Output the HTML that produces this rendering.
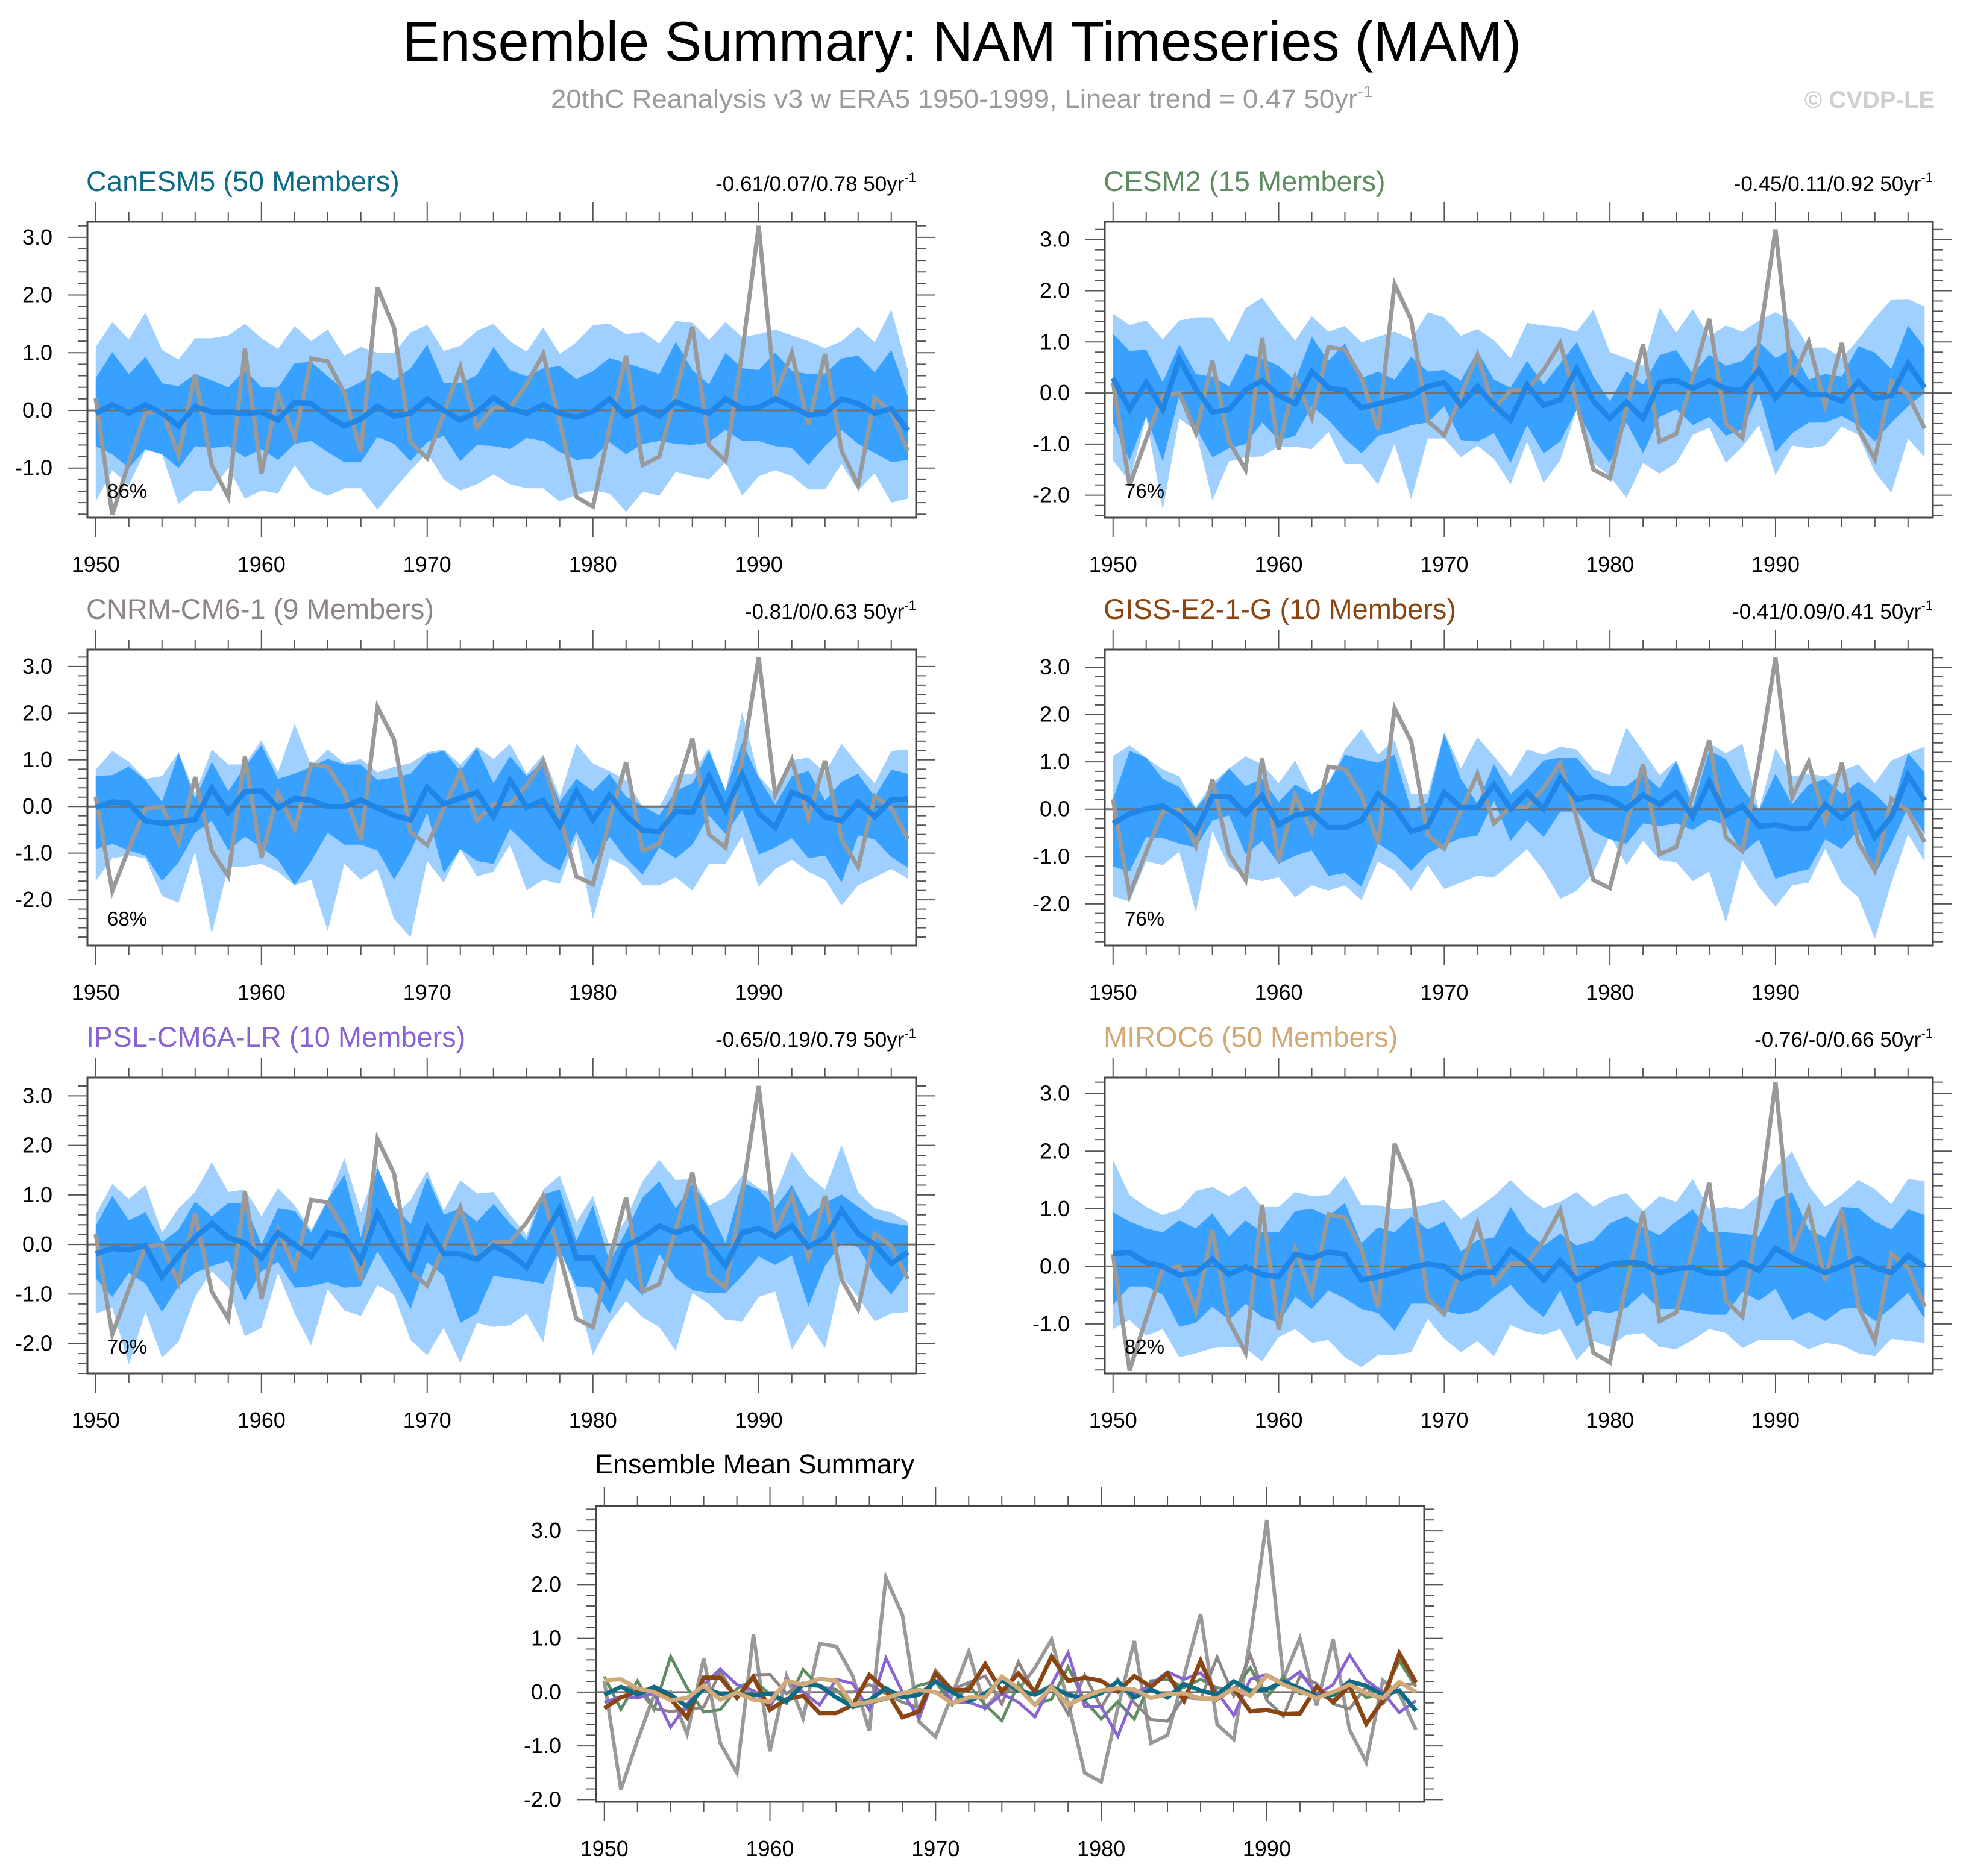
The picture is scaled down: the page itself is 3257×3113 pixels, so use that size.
<!DOCTYPE html>
<html><head><meta charset="utf-8"><style>
html,body{margin:0;padding:0;background:#fff;}
svg{display:block;font-family:"Liberation Sans",Arial,sans-serif;}
</style></head><body>
<svg id="chart" xmlns="http://www.w3.org/2000/svg" width="3257" height="3113" viewBox="0 0 3257 3113">
<rect width="3257" height="3113" fill="#fff"/>
<text x="1596" y="101" font-size="94" text-anchor="middle" textLength="1856" lengthAdjust="spacingAndGlyphs">Ensemble Summary: NAM Timeseries (MAM)</text>
<text x="914" y="179" font-size="44" fill="#9a9a9a" textLength="1364" lengthAdjust="spacingAndGlyphs">20thC Reanalysis v3 w ERA5 1950-1999, Linear trend = 0.47 50yr<tspan font-size="28" dy="-18">-1</tspan></text>
<text x="3210" y="179" font-size="40" font-weight="bold" fill="#cfcfcf" text-anchor="end">© CVDP-LE</text>
<g id="plots"></g>
</svg>
<script>
const years = Array.from({length:50},(_, i)=>1950+i);
const obs = [0.21,-1.81,-0.9,-0.05,0.0,-0.78,0.63,-0.95,-1.5,1.07,-1.1,0.3,-0.48,0.9,0.85,0.3,-0.72,2.13,1.43,-0.55,-0.83,-0.05,0.75,-0.3,0.05,0.05,0.45,0.98,-0.2,-1.5,-1.67,-0.3,0.95,-0.95,-0.8,0.3,1.45,-0.6,-0.88,1.0,3.2,0.25,1.0,-0.25,0.98,-0.7,-1.3,0.22,-0.03,-0.7];

const canMean = [-0.05,0.1,-0.05,0.1,-0.05,-0.27,0.07,-0.03,-0.03,-0.06,-0.03,-0.17,0.14,0.12,-0.1,-0.27,-0.15,0.07,-0.1,-0.05,0.2,0.0,-0.17,-0.03,0.22,0.03,-0.05,0.1,-0.05,-0.12,-0.02,0.2,-0.1,0.05,-0.1,0.15,0.03,-0.05,0.2,0.03,0.05,0.2,0.07,-0.08,-0.05,0.2,0.12,-0.05,0.03,-0.35];
const canInHi = [0.56,1.01,0.63,0.93,0.47,0.42,0.63,0.52,0.4,0.7,0.4,0.39,0.82,0.84,0.59,0.35,0.49,0.7,0.52,0.73,1.14,0.47,0.47,0.61,1.1,0.7,0.59,0.73,0.77,0.54,0.68,0.91,0.82,0.73,0.63,1.19,0.7,0.45,1.0,0.73,0.7,1.0,0.68,0.63,0.64,0.9,0.95,0.66,1.05,0.24];
const canInLo = [-0.62,-0.76,-1.0,-0.67,-0.76,-1.0,-0.62,-0.65,-0.62,-0.81,-0.67,-0.86,-0.58,-0.53,-0.72,-0.9,-0.9,-0.46,-0.58,-0.88,-0.55,-0.44,-0.88,-0.6,-0.62,-0.67,-0.48,-0.53,-0.72,-0.86,-0.83,-0.55,-0.76,-0.58,-0.53,-0.58,-0.6,-0.55,-0.34,-0.53,-0.53,-0.62,-0.65,-0.95,-0.62,-0.34,-0.58,-0.74,-0.9,-0.86];
const canOutHi = [1.1,1.53,1.23,1.7,1.05,0.88,1.25,1.25,1.3,1.5,1.25,1.07,1.46,1.2,1.4,0.95,1.1,1.0,1.0,1.35,1.48,1.03,1.12,1.38,1.5,1.2,1.02,1.44,0.98,1.18,1.48,1.5,1.32,1.36,1.16,1.55,1.52,1.22,1.53,1.27,1.32,1.4,1.3,1.2,1.08,1.2,1.45,1.18,1.75,0.7];
const canOutLo = [-1.58,-1.04,-1.3,-0.69,-0.76,-1.62,-1.39,-1.39,-1.0,-1.53,-1.39,-1.44,-0.95,-1.35,-1.48,-1.35,-1.35,-1.72,-1.37,-1.04,-0.74,-1.2,-1.39,-1.28,-1.11,-1.28,-1.35,-1.35,-1.58,-1.46,-1.39,-1.44,-1.76,-1.41,-1.48,-1.07,-1.14,-1.2,-0.9,-1.48,-1.14,-1.04,-1.14,-1.37,-1.37,-0.93,-1.39,-1.09,-1.6,-1.53];

const cesmMean = [0.29,-0.32,0.21,-0.32,0.66,0.08,-0.37,-0.33,0.06,0.24,-0.05,-0.21,0.42,0.1,0.05,-0.29,-0.21,-0.13,-0.05,0.13,0.2,-0.24,0.13,-0.24,-0.53,0.16,-0.24,-0.13,0.47,-0.16,-0.5,-0.18,-0.5,0.21,0.24,0.09,0.24,0.08,0.05,0.45,-0.1,0.29,-0.03,-0.03,-0.16,0.22,-0.1,-0.05,0.58,0.1];
const cesmInHi = [1.16,0.82,0.85,0.21,0.95,0.37,0.32,0.13,0.76,0.68,0.53,0.24,1.1,0.63,0.97,0.29,0.42,0.26,0.71,0.42,0.45,0.24,0.82,0.26,0.1,0.63,0.16,0.58,1.0,0.32,-0.16,0.42,0.16,0.74,0.84,0.37,0.75,0.53,0.63,1.0,0.68,0.87,0.26,0.37,0.32,0.92,0.79,0.47,1.32,0.89];
const cesmInLo = [-0.58,-1.32,-0.45,-1.34,-0.05,-0.68,-1.26,-1.08,-1.0,-0.58,-0.92,-0.84,-0.26,-0.53,-0.89,-1.18,-0.84,-0.76,-0.63,-0.58,-0.26,-0.92,-0.95,-0.79,-1.37,-0.63,-1.18,-0.95,-0.32,-0.95,-1.37,-0.58,-1.18,-0.47,-0.32,-0.63,-0.47,-0.84,-0.71,0.0,-1.16,-0.79,-0.58,-0.58,-0.45,-0.63,-0.95,-0.58,-0.26,0.0];
const cesmOutHi = [1.55,1.33,1.42,1.05,1.42,1.48,1.48,1.0,1.66,1.87,1.42,1.03,1.5,1.2,1.31,0.99,1.1,1.2,1.05,1.58,1.48,1.12,1.25,1.03,0.68,1.37,1.32,1.29,1.2,1.63,0.8,0.68,0.53,1.67,1.18,1.64,1.1,1.32,1.2,1.42,1.58,1.42,0.89,0.89,0.68,1.05,1.47,1.83,1.84,1.69];
const cesmOutLo = [-1.32,-1.74,-0.47,-2.29,-0.5,-0.74,-2.1,-1.34,-1.26,-1.24,-1.05,-1.05,-1.1,-0.76,-1.39,-1.39,-1.79,-1.0,-2.08,-0.89,-0.89,-1.26,-1.03,-1.29,-1.79,-0.95,-1.76,-1.32,-0.32,-1.37,-1.63,-2.05,-1.37,-1.58,-1.37,-0.82,-0.68,-1.37,-1.05,-0.63,-1.61,-1.03,-1.08,-1.03,-0.66,-0.82,-1.55,-1.95,-0.89,-1.26];

const cnrmMean = [-0.02,0.1,0.07,-0.31,-0.36,-0.33,-0.28,0.39,-0.13,0.32,0.33,-0.03,0.17,0.13,0.0,0.0,0.14,-0.03,-0.19,-0.29,0.41,0.05,0.18,0.3,-0.22,0.56,-0.02,0.13,-0.41,0.32,-0.29,0.24,-0.2,-0.51,-0.54,-0.1,-0.13,0.65,-0.07,0.69,-0.15,-0.45,0.3,0.16,-0.22,-0.31,0.1,-0.22,0.14,0.16];
const cnrmInHi = [0.65,0.67,0.86,0.56,0.1,1.14,0.16,0.96,0.33,0.85,1.31,0.59,0.7,0.85,1.02,0.9,0.9,0.57,0.62,0.7,1.11,1.19,0.76,1.25,0.5,1.08,0.65,0.96,0.1,0.59,0.33,0.7,0.21,0.01,-0.19,0.33,0.5,1.19,0.33,1.37,0.62,0.04,0.65,0.76,0.13,0.53,0.7,0.21,0.79,0.7];
const cnrmInLo = [-0.91,-0.8,-0.94,-1.05,-1.6,-1.2,-0.56,-0.31,-0.94,-0.65,-0.88,-1.14,-1.69,-1.17,-0.56,-0.82,-0.82,-0.94,-1.57,-0.97,-0.13,-1.43,-0.91,-1.17,-1.23,-0.48,-0.82,-1.17,-1.37,-0.54,-1.23,-0.65,-1.11,-1.46,-0.88,-1.11,-0.82,-0.19,-0.59,-0.07,-1.03,-0.88,-0.68,-1.11,-1.05,-1.63,-0.62,-0.71,-1.08,-1.31];
const cnrmOutHi = [0.79,1.19,0.96,0.59,0.65,1.16,0.27,1.22,0.9,0.9,1.42,0.73,1.77,0.88,1.22,0.93,1.02,0.73,0.85,0.93,1.16,1.22,0.9,1.28,1.02,1.34,0.7,1.11,0.21,1.34,0.92,0.76,0.56,0.0,-0.02,0.67,0.7,1.25,0.33,2.03,0.65,0.27,0.99,1.05,0.73,1.34,0.9,0.5,1.19,1.22];
const cnrmOutLo = [-1.6,-1.11,-1.05,-1.11,-1.92,-2.06,-0.97,-2.73,-1.29,-1.29,-1.23,-1.4,-1.69,-1.57,-2.67,-1.23,-1.57,-1.34,-2.41,-2.81,-1.17,-1.63,-0.91,-1.5,-1.4,-0.82,-1.8,-1.57,-1.66,-0.68,-2.41,-1.11,-1.29,-1.69,-1.69,-1.52,-1.8,-1.23,-1.23,-0.65,-1.72,-1.34,-1.14,-1.4,-1.57,-2.12,-1.69,-1.52,-1.34,-1.55];

const gissMean = [-0.3,-0.1,0.01,0.07,-0.13,-0.47,0.27,0.27,-0.1,0.28,-0.33,-0.13,-0.07,-0.39,-0.39,-0.24,0.32,0.04,-0.47,-0.36,0.35,0.04,0.04,0.52,0.01,0.35,0.01,0.66,0.21,0.27,0.21,0.01,0.3,0.1,0.35,-0.16,0.58,-0.13,0.07,-0.36,-0.33,-0.41,-0.4,0.1,-0.19,0.12,-0.59,-0.16,0.72,0.18];
const gissInHi = [0.21,1.23,1.09,0.64,0.47,0.01,0.44,0.86,0.49,0.64,0.15,0.52,0.32,0.55,1.15,1.06,0.98,1.15,-0.02,0.15,1.6,0.64,0.12,0.95,0.32,0.64,1.03,1.09,1.09,0.66,0.49,0.49,0.75,0.44,1.01,0.04,1.23,1.06,0.44,-0.02,0.75,0.1,0.52,0.64,0.32,0.58,0.32,-0.02,1.18,0.78];
const gissInLo = [-1.21,-1.32,-0.59,-0.61,-0.73,-0.81,-0.24,-0.13,-0.95,-0.67,-1.15,-0.98,-0.87,-1.41,-1.35,-1.64,-0.73,-0.95,-1.3,-0.93,-0.76,-0.61,-0.56,0.18,-0.67,-0.24,-0.59,-0.05,-0.05,-0.47,-0.64,-0.73,-0.3,-0.36,-0.3,-0.44,-0.22,-0.33,-0.93,-0.64,-1.47,-1.35,-1.27,-0.64,-0.84,-0.44,-1.38,-0.73,0.04,-0.53];
const gissOutHi = [1.12,1.35,1.09,0.84,0.69,0.04,0.55,0.86,1.12,0.95,0.55,1.03,0.32,0.55,1.26,1.69,1.15,1.46,0.32,0.32,1.63,0.86,1.52,1.12,0.69,1.26,1.15,1.32,1.26,0.84,0.72,1.72,1.23,0.72,1.03,0.27,1.4,1.18,1.38,-0.02,1.29,0.69,0.75,0.69,0.81,0.95,0.55,1.03,1.18,1.32];
const gissOutLo = [-1.84,-1.95,-1.1,-1.18,-0.9,-2.18,-0.47,-1.21,-1.44,-1.52,-1.44,-1.86,-1.61,-1.72,-1.61,-1.92,-1.1,-1.3,-1.72,-1.18,-1.69,-1.55,-1.41,-1.44,-1.15,-0.84,-1.3,-1.89,-1.72,-1.35,-0.56,-1.18,-0.67,-1.07,-1.12,-1.52,-1.32,-2.4,-1.07,-1.64,-2.06,-1.61,-1.55,-0.84,-1.55,-1.86,-2.74,-1.55,-0.53,-1.1];

const ipslMean = [-0.19,-0.08,-0.11,-0.02,-0.65,-0.22,0.14,0.43,0.14,0.03,-0.27,0.24,0.0,-0.24,0.24,0.16,-0.33,0.63,0.0,-0.49,0.35,-0.19,-0.19,-0.3,-0.03,-0.19,-0.46,0.14,0.73,-0.27,-0.27,-0.82,-0.03,0.14,0.38,0.24,0.36,0.0,-0.43,0.24,0.33,0.16,0.38,-0.05,0.14,0.69,0.22,0.0,-0.38,-0.16];
const ipslInHi = [0.38,0.98,0.49,0.65,0.05,0.3,0.87,0.57,0.84,0.82,0.0,0.73,0.68,0.24,0.9,1.41,0.14,1.55,0.79,0.41,1.36,0.6,0.73,0.46,0.82,0.43,0.08,1.01,1.11,0.08,0.79,-0.35,0.27,0.95,1.28,0.73,1.22,0.73,0.03,1.25,1.11,0.73,1.2,0.57,0.84,1.01,0.76,0.52,0.43,0.38];
const ipslInLo = [-0.68,-1.06,-0.57,-0.79,-1.36,-0.84,-0.57,-0.43,-0.33,-1.14,-0.54,-0.35,-0.87,-0.84,-0.76,-0.87,-0.84,-0.14,-0.68,-1.3,-0.35,-0.63,-1.58,-1.39,-0.63,-0.68,-0.73,-0.79,-0.11,-0.84,-0.87,-1.39,-0.68,-1.03,-0.19,-0.68,-0.92,-0.98,-0.98,-0.63,-0.24,-0.41,-0.22,-1.25,-0.43,0.03,-0.05,-0.63,-1.01,-0.54];
const ipslOutHi = [0.6,1.22,0.92,1.2,0.24,0.73,1.06,1.66,1.06,1.11,0.57,1.14,0.79,0.3,0.9,1.74,0.65,1.6,0.57,0.9,1.49,0.68,1.3,1.03,1.06,0.6,0.19,1.11,1.39,0.46,0.98,-0.03,0.52,1.28,1.71,1.3,1.33,0.79,0.95,1.39,1.14,1.01,1.87,1.39,1.11,2.01,1.06,0.73,0.65,0.46];
const ipslOutLo = [-1.39,-1.28,-2.42,-1.36,-2.28,-1.96,-1.06,-0.54,-0.87,-1.85,-1.68,-0.57,-1.39,-2.04,-0.9,-1.33,-1.44,-0.82,-1.01,-1.93,-2.23,-1.68,-2.39,-1.58,-1.66,-1.63,-1.39,-1.98,-0.08,-0.95,-2.23,-1.58,-1.14,-1.47,-1.66,-2.15,-0.98,-1.2,-1.52,-1.55,-1.06,-0.95,-2.12,-1.58,-2.09,-0.63,-1.06,-1.55,-1.39,-1.36];

const mirocMean = [0.22,0.24,0.07,0.0,-0.15,-0.11,0.12,-0.14,-0.01,-0.14,-0.18,0.21,0.14,0.25,0.21,-0.24,-0.18,-0.11,-0.02,0.04,0.0,-0.21,-0.1,-0.1,0.29,0.07,-0.24,0.1,-0.24,-0.09,0.03,0.07,0.05,-0.11,-0.04,-0.02,-0.12,-0.12,0.07,-0.07,0.31,0.14,0.02,-0.11,0.0,0.14,-0.02,-0.11,0.19,0.0];
const mirocInHi = [0.94,0.78,0.66,0.59,0.8,0.66,0.92,0.52,0.8,0.59,0.59,0.96,1.0,0.87,1.1,0.4,0.68,0.59,0.87,0.64,0.78,0.26,0.45,0.5,1.03,0.59,0.36,0.57,0.36,0.45,0.75,0.87,0.68,0.54,0.78,0.99,0.59,0.59,0.57,0.52,1.15,1.29,0.64,0.5,1.03,1.01,0.78,0.64,0.99,0.89];
const mirocInLo = [-0.67,-0.35,-0.35,-0.49,-1.05,-0.98,-0.7,-0.93,-0.65,-0.88,-0.98,-0.53,-0.74,-0.42,-0.56,-0.74,-0.81,-1.12,-0.65,-0.65,-0.77,-0.84,-0.77,-0.53,-0.32,-0.65,-0.88,-0.42,-1.05,-0.77,-0.81,-0.72,-0.46,-0.74,-0.74,-0.79,-0.84,-0.84,-0.44,-0.6,-0.39,-0.93,-0.79,-0.95,-0.74,-0.72,-0.95,-0.72,-0.46,-0.91];
const mirocOutHi = [1.85,1.24,1.03,0.89,0.99,1.31,1.38,1.22,1.4,1.03,1.03,1.29,1.22,1.24,1.57,1.06,1.06,0.99,1.01,1.08,1.15,0.82,1.01,1.22,1.5,1.22,1.01,1.12,1.29,1.03,1.2,1.27,0.96,1.22,1.12,1.52,0.99,1.03,0.99,1.24,1.71,1.99,1.4,1.03,1.24,1.5,1.34,1.08,1.52,1.48];
const mirocOutLo = [-1.09,-0.93,-1.21,-1.09,-1.58,-1.51,-1.42,-1.4,-1.42,-1.65,-1.23,-1.09,-1.33,-1.28,-1.58,-1.75,-1.54,-1.54,-1.49,-0.91,-1.26,-1.49,-1.3,-1.56,-1.02,-1.14,-1.19,-1.09,-1.63,-1.3,-1.4,-1.19,-1.16,-1.4,-1.44,-1.28,-1.09,-1.16,-1.42,-1.28,-1.28,-1.28,-1.44,-1.33,-1.37,-1.51,-1.56,-1.26,-1.3,-1.33];

const modelNames = ["CanESM5 (50 Members)","CESM2 (15 Members)","CNRM-CM6-1 (9 Members)","GISS-E2-1-G (10 Members)","IPSL-CM6A-LR (10 Members)","MIROC6 (50 Members)"];
const trendLabels = ["-0.61/0.07/0.78 50yr","-0.45/0.11/0.92 50yr","-0.81/0/0.63 50yr","-0.41/0.09/0.41 50yr","-0.65/0.19/0.79 50yr","-0.76/-0/0.66 50yr"];
const pctLabels = ["86%","76%","68%","76%","70%","82%"];
const yTickLabels = ["-3.0","-2.0","-1.0","0.0","1.0","2.0","3.0"];
const xTickLabels = ["1950","1960","1970","1980","1990"];

const NS="http://www.w3.org/2000/svg";
const root=document.getElementById('plots');
function mk(tag,attrs,parent){const e=document.createElementNS(NS,tag);for(const k in attrs)e.setAttribute(k,attrs[k]);(parent||root).appendChild(e);return e;}

const modelColors=["#0e6b85","#5f8c63","#8e8686","#8b4513","#8a63d2","#d2aa78"];
const frames=[
 {x0:145,x1:1520,y0:368,y1:859,ymin:-1.86,ymax:3.27},
 {x0:1833,x1:3207,y0:368,y1:859,ymin:-2.44,ymax:3.35},
 {x0:145,x1:1520,y0:1078,y1:1569,ymin:-2.98,ymax:3.36},
 {x0:1833,x1:3207,y0:1078,y1:1569,ymin:-2.88,ymax:3.37},
 {x0:145,x1:1520,y0:1788,y1:2279,ymin:-2.6,ymax:3.37},
 {x0:1833,x1:3207,y0:1788,y1:2279,ymin:-1.86,ymax:3.28}
];
const sumFrame={x0:989,x1:2363,y0:2499,y1:2990,ymin:-2.04,ymax:3.46};
const X0=1949.5,X1=1999.5;

function axes(f){
  f.sx=v=>f.x0+(v-X0)/(X1-X0)*(f.x1-f.x0);
  f.sy=v=>f.y1-(v-f.ymin)/(f.ymax-f.ymin)*(f.y1-f.y0);
}
function drawFrame(f,g){
  const tg=mk('g',{stroke:'#555','stroke-width':2},g);
  
  
  for(let yr=1950;yr<=1998;yr+=2){
    const L=(yr%10===0)?32:16, x=f.sx(yr);
    mk('line',{x1:x,x2:x,y1:f.y0,y2:f.y0-L},tg);
    mk('line',{x1:x,x2:x,y1:f.y1,y2:f.y1+L},tg);
  }
  for(let k=Math.ceil(f.ymin*5);k<=Math.floor(f.ymax*5);k++){
    const v=k/5, L=(k%5===0)?32:16, y=f.sy(v);
    mk('line',{x1:f.x0,x2:f.x0-L,y1:y,y2:y},tg);
    mk('line',{x1:f.x1,x2:f.x1+L,y1:y,y2:y},tg);
  }
  yTickLabels.forEach(lbl=>{
    const v=parseFloat(lbl);
    if(v<f.ymin||v>f.ymax)return;
    const t=mk('text',{x:f.x0-58,y:f.sy(v)+12,'font-size':36,'text-anchor':'end'},g);
    
    
    t.textContent=lbl;
  });
  xTickLabels.forEach(lbl=>{
    const t=mk('text',{x:f.sx(+lbl),y:f.y1+90,'font-size':36,'text-anchor':'middle'},g);
    
    
    t.textContent=lbl;
  });
}
function pathOf(f,arr){return arr.map((v,i)=>(i?'L':'M')+f.sx(years[i]).toFixed(1)+','+f.sy(v).toFixed(1)).join(' ');}
function bandOf(f,hi,lo){
  let d=hi.map((v,i)=>(i?'L':'M')+f.sx(years[i]).toFixed(1)+','+f.sy(v).toFixed(1)).join(' ');
  for(let i=lo.length-1;i>=0;i--)d+=' L'+f.sx(years[i]).toFixed(1)+','+f.sy(lo[i]).toFixed(1);
  return d+' Z';
}

const panelData=[
 [canMean,canInHi,canInLo,canOutHi,canOutLo],
 [cesmMean,cesmInHi,cesmInLo,cesmOutHi,cesmOutLo],
 [cnrmMean,cnrmInHi,cnrmInLo,cnrmOutHi,cnrmOutLo],
 [gissMean,gissInHi,gissInLo,gissOutHi,gissOutLo],
 [ipslMean,ipslInHi,ipslInLo,ipslOutHi,ipslOutLo],
 [mirocMean,mirocInHi,mirocInLo,mirocOutHi,mirocOutLo]
];

panelData.forEach((pd,p)=>{
  const f=frames[p]; axes(f);
  const g=mk('g',{});
  
  
  const ob=mk('path',{d:bandOf(f,pd[3],pd[4]),fill:'#9fd0ff'},g);
  
  
  const ib=mk('path',{d:bandOf(f,pd[1],pd[2]),fill:'#38a0ff'},g);
  
  
  const z=mk('line',{x1:f.x0,x2:f.x1,y1:f.sy(0),y2:f.sy(0),stroke:'#6f6f6f','stroke-width':3},g);
  
  
  const ol=mk('path',{d:pathOf(f,obs),fill:'none',stroke:'#999','stroke-width':7},g);
  
  
  const ml=mk('path',{d:pathOf(f,pd[0]),fill:'none',stroke:'#1f86e8','stroke-width':9},g);
  
  
  const fr=mk('rect',{x:f.x0,y:f.y0,width:f.x1-f.x0,height:f.y1-f.y0,fill:'none',stroke:'#444','stroke-width':3},g);
  
  
  drawFrame(f,g);
  const tt=mk('text',{x:f.x0-2,y:f.y0-51,'font-size':47,fill:modelColors[p]},g);
  
  
  tt.textContent=modelNames[p];
  const tr=mk('text',{x:f.x1,y:f.y0-51,'font-size':35,'text-anchor':'end'},g);
  
  
  tr.textContent=trendLabels[p];
  const sup=mk('tspan',{'font-size':22,dy:-15},tr); sup.textContent='-1';
  const pc=mk('text',{x:f.x0+33,y:f.y1-33,'font-size':33},g);
  
  
  pc.textContent=pctLabels[p];
});

(function(){
  const f=sumFrame; axes(f);
  const g=mk('g',{});
  
  
  const z=mk('line',{x1:f.x0,x2:f.x1,y1:f.sy(0),y2:f.sy(0),stroke:'#6f6f6f','stroke-width':3},g);
  
  
  const ol=mk('path',{d:pathOf(f,obs),fill:'none',stroke:'#999','stroke-width':6},g);
  
  
  const order=[1,2,4,3,0,5];
  order.forEach(p=>{
    const l=mk('path',{d:pathOf(f,panelData[p][0]),fill:'none',stroke:modelColors[p],'stroke-width':(p===0||p===5||p===3)?7:5},g);
    
    
  });
  const fr=mk('rect',{x:f.x0,y:f.y0,width:f.x1-f.x0,height:f.y1-f.y0,fill:'none',stroke:'#444','stroke-width':3},g);
  
  
  drawFrame(f,g);
  const tt=mk('text',{x:f.x0-2,y:f.y0-54,'font-size':45},g);
  
  
  tt.textContent='Ensemble Mean Summary';
})();
</script>
</body></html>
